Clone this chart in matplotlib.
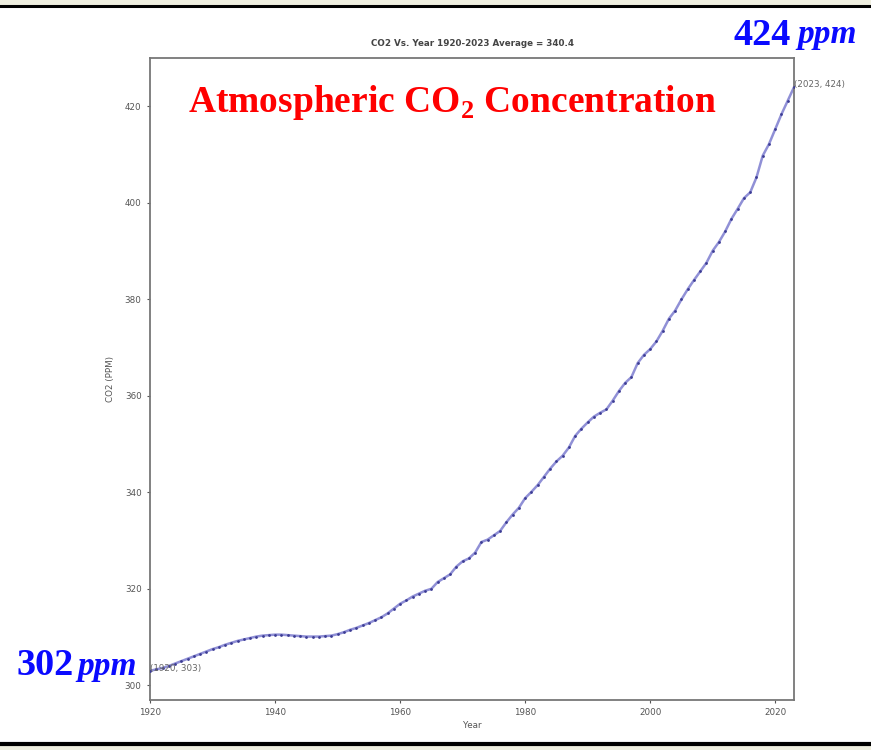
import numpy as np
import matplotlib
matplotlib.use("Agg")
import matplotlib.pyplot as plt
from matplotlib.lines import Line2D
from matplotlib.patches import Rectangle

# CO2 annual values
years = np.arange(1920, 2024)
co2 = [
    303.0, 303.3, 303.6, 304.0, 304.5, 305.0, 305.5, 306.0, 306.5, 307.0,  # 1920s
    307.5, 307.9, 308.4, 308.8, 309.2, 309.5, 309.8, 310.1, 310.3, 310.4,  # 1930s
    310.5, 310.5, 310.4, 310.3, 310.2, 310.1, 310.1, 310.1, 310.2, 310.3,  # 1940s
    310.6, 311.0, 311.5, 311.9, 312.4, 312.9, 313.5, 314.1, 314.9, 315.9,  # 1950s
    316.9, 317.6, 318.4, 319.0, 319.6, 320.0, 321.4, 322.2, 323.0, 324.6,  # 1960s
    325.7, 326.3, 327.5, 329.7, 330.2, 331.1, 332.0, 333.8, 335.4, 336.8,  # 1970s
    338.8, 340.1, 341.5, 343.2, 344.9, 346.4, 347.6, 349.3, 351.7, 353.2,  # 1980s
    354.5, 355.7, 356.5, 357.2, 359.0, 361.0, 362.7, 363.9, 366.8, 368.5,  # 1990s
    369.7, 371.3, 373.5, 376.0, 377.7, 380.0, 382.1, 384.0, 385.8, 387.6,  # 2000s
    390.1, 391.9, 394.1, 396.7, 398.8, 401.0, 402.2, 405.3, 409.8, 412.2,  # 2010s
    415.3, 418.4, 421.2, 424.0,                                            # 2020s
]

title_txt = "CO2 Vs. Year 1920-2023 Average = 340.4"
xticks = [1920, 1940, 1960, 1980, 2000, 2020]
yticks = [300, 320, 340, 360, 380, 400, 420]

plt.rcParams['mathtext.fontset'] = 'custom'
plt.rcParams['mathtext.rm'] = 'Liberation Serif:bold'

W, H = 871, 750
fig = plt.figure(figsize=(W / 100, H / 100), dpi=100)
fig.patch.set_facecolor('white')

def fx(px):
    return px / W

def fy(py):
    return 1 - py / H

# slide frame: beige strips and black rules top / bottom
fig.add_artist(Rectangle((0, fy(5)), 1, 5 / H, transform=fig.transFigure,
                         facecolor='#eeeedf', edgecolor='none'))
fig.add_artist(Rectangle((0, 0), 1, 4 / H, transform=fig.transFigure,
                         facecolor='#eeeedf', edgecolor='none'))
fig.add_artist(Line2D([0, 1], [fy(6), fy(6)], transform=fig.transFigure,
                      color='black', lw=2.2))
fig.add_artist(Line2D([0, 1], [fy(743.5), fy(743.5)], transform=fig.transFigure,
                      color='black', lw=3))

ax = fig.add_axes([fx(150), fy(700), fx(794) - fx(150), fy(58) - fy(700)])
ax.plot(years, co2, '-', color='#9090d6', lw=1.8, zorder=2)
ax.plot(years, co2, 'o', color='#3c3c94', ms=2.0, mec='none', zorder=3)
ax.set_xlim(1920, 2023)
ax.margins(y=0.05)
ax.set_xticks(xticks)
ax.set_yticks(yticks)
ax.tick_params(labelsize=6.3, colors='#555555', length=2.5, width=0.8)
for s in ax.spines.values():
    s.set_color('#777777')
    s.set_linewidth(1.3)
ax.set_xlabel('Year', fontsize=6.3, color='#555555', labelpad=3)
ax.set_ylabel('CO2 (PPM)', fontsize=6.3, color='#555555', labelpad=7)
ax.set_title(title_txt, fontsize=6.3, fontweight='bold', color='#444444', pad=9)

ax.annotate(f"({years[0]}, {co2[0]:.0f})", (years[0], co2[0]),
            fontsize=6.3, color='#666666')
ax.annotate(f"({years[-1]}, {co2[-1]:.0f})", (years[-1], co2[-1]),
            fontsize=6.3, color='#666666', annotation_clip=False)

# slide overlay text
fig.text(fx(188), fy(112), r'Atmospheric CO$_\mathrm{2}$ Concentration',
         fontsize=27, family='Liberation Serif', fontweight='bold',
         color='#ff0000', va='baseline', ha='left')
blue = '#0a0aff'
fig.text(fx(733), fy(45), '424', fontsize=27.5, family='Liberation Serif',
         fontweight='bold', color=blue, va='baseline', ha='left')
fig.text(fx(797), fy(43), 'ppm', fontsize=24, family='Liberation Serif',
         fontweight='bold', style='italic', color=blue, va='baseline', ha='left')
fig.text(fx(16), fy(675), '302', fontsize=27.5, family='Liberation Serif',
         fontweight='bold', color=blue, va='baseline', ha='left')
fig.text(fx(77), fy(675), 'ppm', fontsize=24, family='Liberation Serif',
         fontweight='bold', style='italic', color=blue, va='baseline', ha='left')

fig.savefig('out.png', dpi=100)
